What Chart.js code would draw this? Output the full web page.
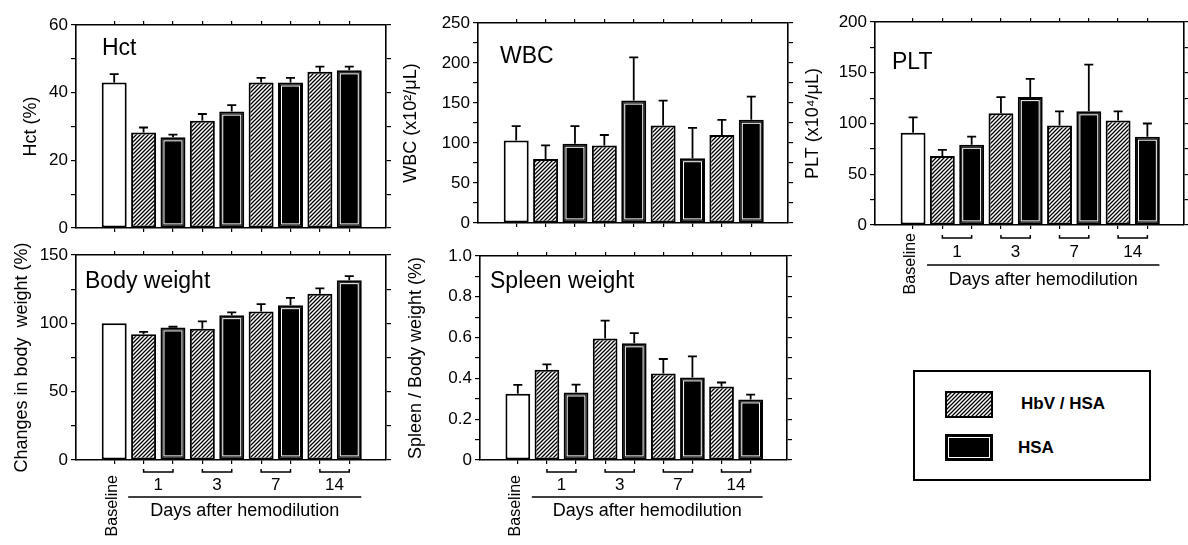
<!DOCTYPE html>
<html>
<head>
<meta charset="utf-8">
<script src="https://cdn.jsdelivr.net/npm/chart.js@4.4.1/dist/chart.umd.min.js"></script>
<style>
  body { margin: 0; width: 1188px; height: 545px; overflow: hidden; position: relative; background: #fff;
         font-family: "Liberation Sans", Arial, sans-serif; }
  canvas { position: absolute; }
  #legend { position: absolute; left: 913px; top: 370px; width: 234px; height: 107px; border: 2px solid #000; }
  #legend .sw { position: absolute; left: 30px; }
  #legend span { position: absolute; font-weight: bold; font-size: 17px; line-height: 20px; }
</style>
</head>
<body>
<div id="legend">
  <canvas class="sw" id="swHbv" width="48" height="27" style="top:19px"></canvas>
  <span style="left:106px;top:22px">HbV / HSA</span>
  <canvas class="sw" id="swHsa" width="48" height="27" style="top:62px"></canvas>
  <span style="left:103px;top:66px">HSA</span>
</div>
<script>
// bars: baseline, then HbV/HSA and HSA for each day
const categories = ["Baseline", "HbV/HSA 1", "HSA 1", "HbV/HSA 3", "HSA 3", "HbV/HSA 7", "HSA 7", "HbV/HSA 14", "HSA 14"];
const groups = ["Baseline", "HbV", "HSA", "HbV", "HSA", "HbV", "HSA", "HbV", "HSA"];
const dayLabels = ["1", "3", "7", "14"];

const hctMean = [43.0, 28.2, 26.8, 31.7, 34.4, 43.0, 43.0, 46.2, 46.6];
const hctSd = [2.5, 1.5, 0.8, 2.0, 1.9, 1.4, 1.4, 1.5, 1.1];
const hctTicks = ["0", "20", "40", "60"];

const wbcMean = [103, 80, 99, 97, 153, 122, 81, 110, 129];
const wbcSd = [18, 17, 22, 13, 54, 31, 38, 19, 29];
const wbcTicks = ["0", "50", "100", "150", "200", "250"];

const pltMean = [91, 68, 79, 110, 126, 98, 112, 103, 87];
const pltSd = [15, 6, 8, 16, 18, 14, 46, 9, 13];
const pltTicks = ["0", "50", "100", "150", "200"];

const bodyMean = [100, 92, 97, 96, 106, 108.6, 113.3, 121.6, 131.6];
const bodySd = [0, 1.8, 0.5, 5.5, 2, 5.5, 5.4, 4, 3];
const bodyTicks = ["0", "50", "100", "150"];

const spleenMean = [0.325, 0.443, 0.331, 0.595, 0.572, 0.424, 0.405, 0.36, 0.297];
const spleenSd = [0.043, 0.026, 0.038, 0.088, 0.05, 0.071, 0.103, 0.02, 0.023];
const spleenTicks = ["0", "0.2", "0.4", "0.6", "0.8", "1.0"];

const FONT = '"Liberation Sans", Arial, sans-serif';
Chart.defaults.font.family = FONT;
Chart.defaults.color = "#000";

function makeHatch() {
  const c = document.createElement("canvas");
  c.width = 4; c.height = 4;
  const g = c.getContext("2d");
  g.fillStyle = "#fff"; g.fillRect(0, 0, 4, 4);
  g.strokeStyle = "#000"; g.lineWidth = 1.3;
  g.beginPath();
  g.moveTo(0, 4); g.lineTo(4, 0);
  g.moveTo(-1, 1); g.lineTo(1, -1);
  g.moveTo(3, 5); g.lineTo(5, 3);
  g.stroke();
  return g.createPattern(c, "repeat");
}
const hatch = makeHatch();

// legend swatches
(function () {
  let g = document.getElementById("swHbv").getContext("2d");
  g.fillStyle = hatch; g.fillRect(0, 0, 48, 27);
  g.strokeStyle = "#000"; g.lineWidth = 2; g.strokeRect(1, 1, 46, 25);
  g = document.getElementById("swHsa").getContext("2d");
  g.fillStyle = "#000"; g.fillRect(0, 0, 48, 27);
  g.strokeStyle = "#fff"; g.lineWidth = 1; g.strokeRect(3.5, 3.5, 41, 20);
})();

const xMin = -1.3, xMax = 9.25;

function makePanel(p) {
  // p.area = target plot area, canvas is built around it
  const a = p.area;
  const axisW = a.L - (p.titleX - 10);
  const cx = p.titleX - 10, cy = a.T - 18;
  const cw = a.R + 8 - cx;
  const padBottom = p.under ? p.bottom - a.B - 6 : 6;
  const ch = a.B + 6 + padBottom - cy;
  const cv = document.createElement("canvas");
  cv.width = cw; cv.height = ch;
  cv.style.left = cx + "px"; cv.style.top = cy + "px";
  document.body.appendChild(cv);

  const vals = p.ticks.map(Number);
  const major = vals[1] - vals[0];
  const yMax = vals[vals.length - 1];

  const xAxis = (pos) => ({
    type: "linear", position: pos, min: xMin, max: xMax, offset: false,
    afterBuildTicks: s => { s.ticks = categories.map((c, i) => ({ value: i })); },
    ticks: { display: false },
    grid: { drawOnChartArea: false, offset: false, tickLength: 4, color: "#000", lineWidth: 1.2 },
    border: { color: "#000", width: 1.6 },
    afterFit: s => { s.height = 6; }
  });
  const yAxis = (pos) => ({
    type: "linear", position: pos, min: 0, max: yMax,
    ticks: {
      display: pos === "left", stepSize: major / 2, autoSkip: false, padding: 3,
      font: { size: 17 }, color: "#000",
      callback: v => {
        const k = vals.findIndex(t => Math.abs(t - v) < 1e-9);
        return k >= 0 ? p.ticks[k] : "";
      }
    },
    grid: { drawOnChartArea: false, tickLength: 5, color: "#000", lineWidth: 1.2 },
    border: { color: "#000", width: 1.6 },
    title: { display: pos === "left", text: p.yTitle, font: { size: 18 }, color: "#000", padding: 0 },
    afterFit: s => { s.width = pos === "left" ? axisW : 6; s.paddingTop = 0; s.paddingBottom = 0; }
  });

  const decor = {
    id: "decor",
    afterDatasetsDraw(chart) {
      const ctx = chart.ctx, ys = chart.scales.y, xs = chart.scales.x, area = chart.chartArea;
      const meta = chart.getDatasetMeta(0);
      ctx.save();
      meta.data.forEach((bar, i) => {
        const { x, y, base, width } = bar.getProps(["x", "y", "base", "width"], true);
        if (groups[i] === "HSA") {
          ctx.strokeStyle = "#fff"; ctx.lineWidth = 1;
          ctx.strokeRect(x - width / 2 + 3.5, y + 3.5, width - 7, base - y - 7);
        }
        if (p.sd[i] > 0) {
          const top = ys.getPixelForValue(p.mean[i] + p.sd[i]);
          ctx.strokeStyle = "#000"; ctx.lineWidth = 1.8;
          ctx.beginPath();
          ctx.moveTo(x, y); ctx.lineTo(x, top);
          ctx.moveTo(x - 4.5, top); ctx.lineTo(x + 4.5, top);
          ctx.stroke();
        }
      });
      // panel name
      ctx.fillStyle = "#000";
      ctx.font = "23px " + FONT;
      ctx.textAlign = "left"; ctx.textBaseline = "middle";
      ctx.fillText(p.title, area.left + p.titleAt[0], area.top + p.titleAt[1]);
      // day brackets and labels under the axis
      if (p.under) {
        const B = area.bottom, u = p.under;
        ctx.lineWidth = 1.5; ctx.strokeStyle = "#000";
        ctx.textAlign = "center";
        dayLabels.forEach((d, g) => {
          const x1 = xs.getPixelForValue(1 + 2 * g), x2 = xs.getPixelForValue(2 + 2 * g);
          ctx.beginPath();
          ctx.moveTo(x1, B + u[0] - 3); ctx.lineTo(x1, B + u[0]);
          ctx.lineTo(x2, B + u[0]); ctx.lineTo(x2, B + u[0] - 3);
          ctx.stroke();
          ctx.font = "17px " + FONT;
          ctx.fillText(d, (x1 + x2) / 2, B + u[1]);
        });
        const l0 = xs.getPixelForValue(0) + 14, l1 = xs.getPixelForValue(8) + 12;
        ctx.beginPath(); ctx.moveTo(l0, B + u[2]); ctx.lineTo(l1, B + u[2]); ctx.stroke();
        ctx.font = "18px " + FONT;
        ctx.fillText("Days after hemodilution", (l0 + l1) / 2, B + u[3]);
        ctx.save();
        ctx.translate(xs.getPixelForValue(0) - 2, B + u[4]);
        ctx.rotate(-Math.PI / 2);
        ctx.textAlign = "right";
        ctx.font = "16px " + FONT;
        ctx.fillText(categories[0], 0, 0);
        ctx.restore();
      }
      ctx.restore();
    }
  };

  return new Chart(cv.getContext("2d"), {
    type: "bar",
    data: {
      datasets: [{
        data: p.mean.map((v, i) => ({ x: i, y: v })),
        backgroundColor: groups.map(g => g === "Baseline" ? "#fff" : g === "HbV" ? hatch : "#000"),
        borderColor: "#000",
        borderWidth: 2,
        borderSkipped: false,
        categoryPercentage: 1,
        barPercentage: 0.85
      }]
    },
    options: {
      responsive: false,
      animation: false,
      layout: { padding: { top: 12, right: 2, bottom: padBottom, left: 0 } },
      plugins: { legend: { display: false }, tooltip: { enabled: false } },
      scales: { x: xAxis("bottom"), xTop: xAxis("top"), y: yAxis("left"), yRight: yAxis("right") }
    },
    plugins: [decor]
  });
}

makePanel({ title: "Hct", yTitle: "Hct (%)", mean: hctMean, sd: hctSd, ticks: hctTicks,
  area: { L: 76, R: 386, T: 25, B: 228 }, titleX: 30, titleAt: [26, 24] });
makePanel({ title: "WBC", yTitle: "WBC (x10²/μL)", mean: wbcMean, sd: wbcSd, ticks: wbcTicks,
  area: { L: 478, R: 788, T: 23, B: 223 }, titleX: 410, titleAt: [22, 34] });
makePanel({ title: "PLT", yTitle: "PLT (x10⁴/μL)", mean: pltMean, sd: pltSd, ticks: pltTicks,
  area: { L: 875, R: 1184, T: 22, B: 225 }, titleX: 812, titleAt: [17, 41],
  under: [13, 27, 40, 55, 8], bottom: 300 });
makePanel({ title: "Body weight", yTitle: "Changes in body  weight (%)", mean: bodyMean, sd: bodySd, ticks: bodyTicks,
  area: { L: 76, R: 386, T: 255, B: 460 }, titleX: 21, titleAt: [9, 27],
  under: [12, 25, 37, 51, 15], bottom: 545 });
makePanel({ title: "Spleen weight", yTitle: "Spleen / Body weight (%)", mean: spleenMean, sd: spleenSd, ticks: spleenTicks,
  area: { L: 480, R: 787, T: 256, B: 460 }, titleX: 415, titleAt: [10, 26],
  under: [12, 25, 37, 51, 15], bottom: 545 });
</script>
</body>
</html>
